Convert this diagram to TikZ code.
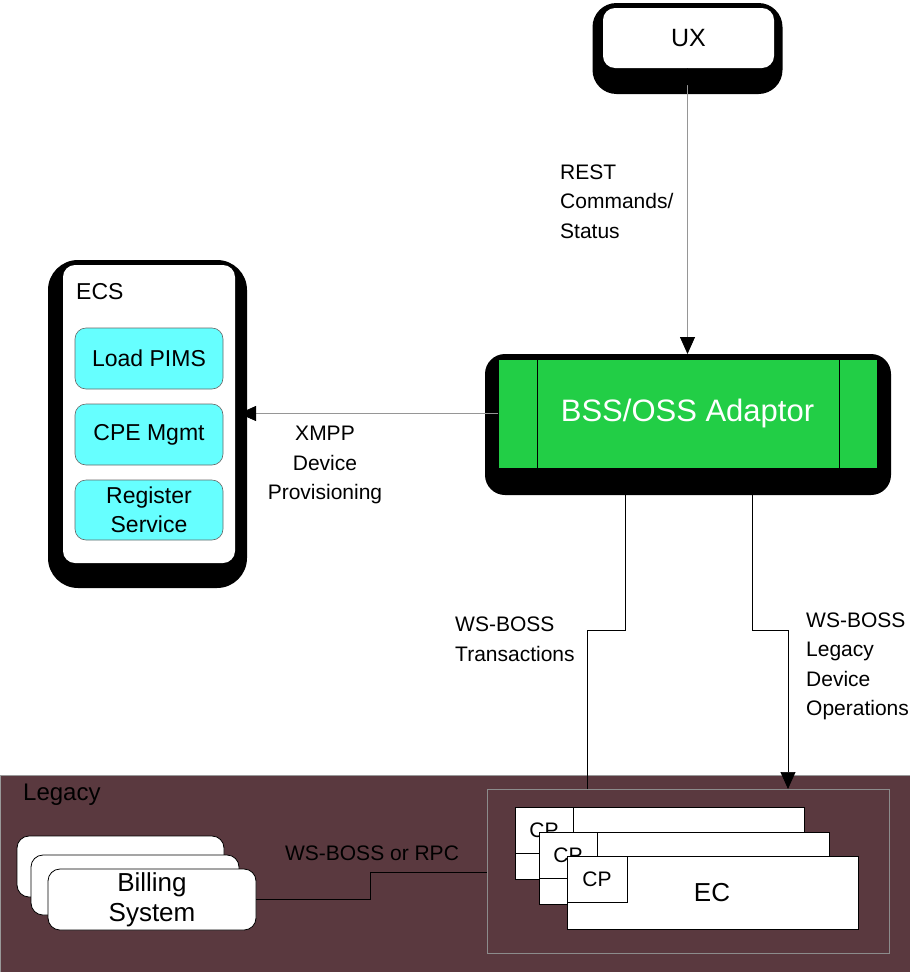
\documentclass[tikz,border=0pt]{standalone}
\usepackage{fontspec}
\setmainfont{Liberation Sans}
\usetikzlibrary{arrows.meta}
\definecolor{bssgreen}{RGB}{34,206,70}
\definecolor{pimcyan}{RGB}{102,255,255}
\definecolor{legbrown}{RGB}{90,57,63}
\definecolor{linegray}{RGB}{150,150,150}
\tikzset{
  box/.style={rectangle, inner sep=0pt, outer sep=0pt},
  shadowbox/.style={box, fill=black, rounded corners=24pt},
  whitebox/.style={box, fill=white, rounded corners=12pt},
  cyanbox/.style={box, fill=pimcyan, draw=black!60, line width=0.6pt, rounded corners=11pt, align=center, font=\fontsize{23}{29}\selectfont},
  ecbox/.style={box, fill=white, draw=black, line width=0.8pt},
  cpbox/.style={box, fill=white, draw=black, line width=0.8pt, font=\fontsize{21}{25}\selectfont},
  billbox/.style={box, fill=white, draw=black, line width=0.8pt, rounded corners=12pt},
  lbl/.style={inner sep=0pt, font=\fontsize{21}{29.5}\selectfont},
  tip/.style={-{Triangle[length=17pt,width=15pt,color=black]}},
  bothtips/.style={{Triangle[length=17pt,width=15pt,color=black]}-{Triangle[length=17pt,width=15pt,color=black]}},
  graylink/.style={draw=linegray, line width=0.8pt},
  blacklink/.style={draw=black, line width=0.7pt},
}
\begin{document}
\begin{tikzpicture}[x=1pt,y=-1pt]
\useasboundingbox (0,0) rectangle (910,972);
% UX
\node[shadowbox, minimum width=190pt, minimum height=91pt] (uxs) at (687.5,48.5) {};
\node[whitebox, minimum width=171pt, minimum height=60pt, font=\fontsize{25}{30}\selectfont] (ux) at (688.5,38) {UX};
% ECS
\node[shadowbox, rounded corners=30pt, minimum width=199pt, minimum height=328pt] (ecss) at (147.5,424) {};
\node[whitebox, minimum width=172pt, minimum height=298pt] (ecs) at (149,414) {};
\node[lbl, anchor=west, font=\fontsize{23}{28}\selectfont] (ecst) at (76,292) {ECS};
\node[cyanbox, minimum width=148pt, minimum height=61pt] (pims) at (149,358.5) {Load PIMS};
\node[cyanbox, minimum width=148pt, minimum height=61pt] (cpe) at (149,434.5) {CPE Mgmt};
\node[cyanbox, minimum width=148pt, minimum height=60pt] (reg) at (149,510) {Register\\Service};
% BSS
\node[shadowbox, rounded corners=20pt, minimum width=406pt, minimum height=141pt] (bsss) at (688,424.5) {};
\node[box, fill=bssgreen, draw=black, line width=0.6pt, minimum width=379pt, minimum height=109pt, text=white, font=\fontsize{31}{36}\selectfont] (bss) at (687.5,413.5) {BSS/OSS Adaptor};
\draw[black, line width=0.7pt] (bss.north west) ++(39,0) coordinate (v1) -- (v1 |- bss.south);
\draw[black, line width=0.7pt] (bss.north east) ++(-38,0) coordinate (v2) -- (v2 |- bss.south);
% Legacy
\node[box, fill=legbrown, draw=black!40, line width=0.5pt, minimum width=910pt, minimum height=197pt] (leg) at (455,873.5) {};
\node[lbl, anchor=west, text=black, font=\fontsize{24}{28}\selectfont] (legt) at (23,795) {Legacy};
\node[box, draw=black!45, line width=1pt, minimum width=402pt, minimum height=164pt] (inner) at (688,871) {};
% EC stacks
\node[ecbox, minimum width=289pt, minimum height=72pt] (ec1) at (659.5,843) {};
\node[cpbox, minimum width=58pt, minimum height=46pt] (cp1) at (544,830) {CP};
\node[ecbox, minimum width=290pt, minimum height=72pt] (ec2) at (684,868) {};
\node[cpbox, minimum width=58pt, minimum height=46pt] (cp2) at (568,855) {CP};
\node[ecbox, minimum width=291pt, minimum height=73pt] (ec3) at (712.5,892.5) {};
\node[cpbox, minimum width=60pt, minimum height=46pt] (cp3) at (597,879) {CP};
\node[lbl, font=\fontsize{26}{30}\selectfont] (ect) at (712,893) {EC};
% Billing
\node[billbox, minimum width=207pt, minimum height=61pt] (bill1) at (120.5,866.5) {};
\node[billbox, minimum width=208pt, minimum height=60pt] (bill2) at (135,885) {};
\node[billbox, minimum width=208pt, minimum height=61pt, align=center, font=\fontsize{26}{30}\selectfont] (bill3) at (152,899.5) {Billing\\System};
% Connectors
\draw[graylink, bothtips] (ux.south -| bss.north) -- (bsss.north -| bss.north);
\draw[graylink, tip] (bss.west) -- ([xshift=-8pt]bss.west -| ecss.east);
\coordinate (tA) at (587,789);
\coordinate (tB) at (625,630);
\draw[blacklink, tip] (inner.north -| tA) |- (tB) -- (tB |- bss.south);
\coordinate (oA) at (752,630);
\coordinate (oB) at (788,789);
\draw[blacklink, tip] (bss.south -| oA) -- (oA) -| (inner.north -| oB);
\coordinate (bm) at (370,872);
\draw[black, line width=1pt] (bill3.east) -| (bm) -- (bm -| inner.west);
% Labels
\node[lbl, anchor=west, align=left] (restl) at (560,201.5) {REST\\Commands/\\Status};
\node[lbl, align=center] (xmppl) at (325,465) {XMPP\\Device\\Provisioning};
\node[lbl, anchor=west, align=left] (transl) at (455,639.5) {WS-BOSS\\Transactions};
\node[lbl, anchor=west, align=left] (opsl) at (806,666.5) {WS-BOSS\\Legacy\\Device\\Operations};
\node[lbl, text=black] (rpcl) at (372,853) {WS-BOSS or RPC};
\end{tikzpicture}
\end{document}
